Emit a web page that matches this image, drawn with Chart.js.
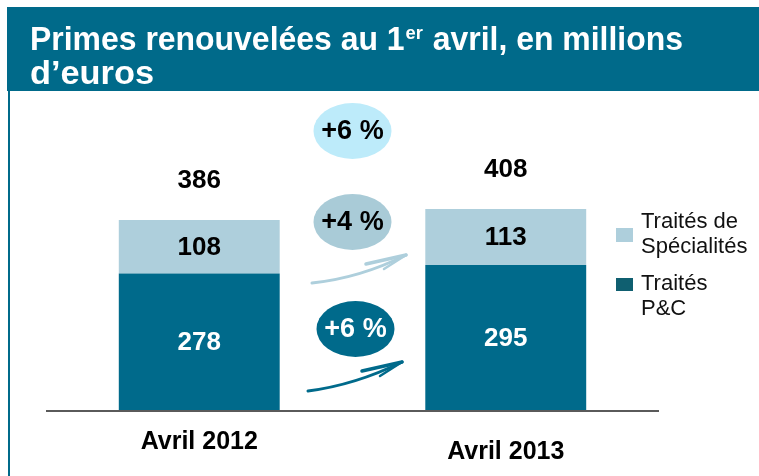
<!DOCTYPE html>
<html>
<head>
<meta charset="utf-8">
<script src="https://cdn.jsdelivr.net/npm/chart.js@4/dist/chart.umd.min.js"></script>
<style>
html,body{margin:0;padding:0;background:#fff;}
#wrap{position:relative;width:759px;height:476px;}
</style>
</head>
<body>
<div id="wrap"><canvas id="c" width="759" height="476"></canvas></div>
<script>
const categories = ['Avril 2012', 'Avril 2013'];
const pcValues = [278, 295];
const specValues = [108, 113];
const totals = [386, 408];
const growthLabels = ['+6 %', '+4 %', '+6 %'];
const seriesPC = ['Traités', 'P&C'];
const seriesSpec = ['Traités de', 'Spécialités'];
const titleLine1 = ['Primes renouvelées au 1', 'er', ' avril, en millions'];
const titleLine2 = 'd\u2019euros';

const DARK = '#006A8B';
const LIGHT = '#AECFDC';
const FONT = '"Liberation Sans", Arial, sans-serif';

const decor = {
  id: 'decor',
  beforeDraw(chart) {
    const ctx = chart.ctx;
    ctx.save();
    ctx.fillStyle = '#fff';
    ctx.fillRect(0, 0, chart.width, chart.height);
    ctx.fillStyle = '#006A8A';
    ctx.fillRect(7, 7, 752, 84);
    ctx.fillRect(8, 91, 2, 385);
    ctx.fillStyle = '#fff';
    ctx.textBaseline = 'alphabetic';
    ctx.textAlign = 'left';
    const big = 'bold 33px ' + FONT, small = 'bold 19px ' + FONT;
    ctx.font = big; const w1 = ctx.measureText(titleLine1[0]).width;
    ctx.font = small; const w2 = ctx.measureText(titleLine1[1]).width;
    ctx.font = big; const w3 = ctx.measureText(titleLine1[2]).width;
    const w4 = ctx.measureText(titleLine2).width;
    const sx = 653 / (w1 + w2 + 2 + w3);
    ctx.save();
    ctx.translate(30, 50);
    ctx.scale(sx, 1);
    ctx.font = big; ctx.fillText(titleLine1[0], 0, 0);
    ctx.font = small; ctx.fillText(titleLine1[1], w1 + 1, -11);
    ctx.font = big; ctx.fillText(titleLine1[2], w1 + w2 + 2, 0);
    ctx.restore();
    ctx.save();
    ctx.translate(30, 84);
    ctx.scale(124 / w4, 1);
    ctx.font = big; ctx.fillText(titleLine2, 0, 0);
    ctx.restore();
    ctx.restore();
  },
  afterDatasetsDraw(chart) {
    const ctx = chart.ctx;
    const xs = chart.scales.x, ys = chart.scales.y;
    const area = chart.chartArea;
    ctx.save();
    ctx.strokeStyle = '#5a5a5a';
    ctx.lineWidth = 2;
    ctx.beginPath();
    ctx.moveTo(area.left, ys.getPixelForValue(0));
    ctx.lineTo(area.right, ys.getPixelForValue(0));
    ctx.stroke();

    ctx.textAlign = 'center';
    ctx.textBaseline = 'middle';
    const m0 = chart.getDatasetMeta(0), m1 = chart.getDatasetMeta(1);
    categories.forEach((cat, i) => {
      const x = xs.getPixelForValue(i);
      const b0 = m0.data[i], b1 = m1.data[i];
      ctx.font = 'bold 26px ' + FONT;
      ctx.fillStyle = '#fff';
      ctx.fillText(String(pcValues[i]), x, (b0.y + b0.base) / 2 + 1);
      ctx.fillStyle = '#000';
      ctx.fillText(String(specValues[i]), x, (b1.y + b1.base) / 2 + 1);
      ctx.fillText(String(totals[i]), x, ys.getPixelForValue(totals[i]) - 39);
      ctx.font = 'bold 25px ' + FONT;
      ctx.fillText(cat, x, 442 + i * 10);
    });

    const mx = (xs.getPixelForValue(0) + xs.getPixelForValue(1)) / 2;
    const bubbles = [
      {dx: 0, y: 131, fill: '#BDEBFA', text: '#000'},
      {dx: 0, y: 222, fill: '#A9CBD7', text: '#000'},
      {dx: 3, y: 329, fill: DARK, text: '#fff'}
    ];
    bubbles.forEach((b, k) => {
      ctx.fillStyle = b.fill;
      ctx.beginPath();
      ctx.ellipse(mx + b.dx, b.y, 39, 28, 0, 0, Math.PI * 2);
      ctx.fill();
      ctx.fillStyle = b.text;
      ctx.font = 'bold 27px ' + FONT;
      ctx.fillText(growthLabels[k], mx + b.dx, b.y + 1);
    });

    function arrow(x0, y0, x1, y1, col, cpx, cpy) {
      ctx.strokeStyle = col;
      ctx.lineCap = 'round';
      ctx.lineWidth = 3;
      ctx.beginPath();
      ctx.moveTo(x0, y0);
      ctx.quadraticCurveTo(cpx, cpy, x1, y1);
      ctx.stroke();
      ctx.lineWidth = 3.5;
      ctx.beginPath();
      ctx.moveTo(x1 - 40, y1 + 9);
      ctx.lineTo(x1, y1);
      ctx.stroke();
      ctx.lineWidth = 2.5;
      ctx.beginPath();
      ctx.moveTo(x1 - 22, y1 + 14);
      ctx.lineTo(x1, y1);
      ctx.stroke();
    }
    arrow(312, 283, 406, 255, '#AECFDC', 360, 278);
    arrow(308, 391, 402, 362, DARK, 355, 385);

    ctx.textAlign = 'left';
    ctx.textBaseline = 'alphabetic';
    ctx.font = '22px ' + FONT;
    ctx.fillStyle = LIGHT;
    ctx.fillRect(616, 228, 17, 14);
    ctx.fillStyle = '#0f5f70';
    ctx.fillRect(616, 278, 17, 13);
    ctx.fillStyle = '#111';
    ctx.fillText(seriesSpec[0], 641, 228);
    ctx.fillText(seriesSpec[1], 641, 253);
    ctx.fillText(seriesPC[0], 641, 290);
    ctx.fillText(seriesPC[1], 641, 315);
    ctx.restore();
  }
};

new Chart(document.getElementById('c'), {
  type: 'bar',
  data: {
    labels: categories,
    datasets: [
      {label: seriesPC.join(' '), data: pcValues, backgroundColor: DARK, borderWidth: 0,
       barPercentage: 0.525, categoryPercentage: 1},
      {label: seriesSpec.join(' '), data: specValues, backgroundColor: LIGHT, borderWidth: 0,
       barPercentage: 0.525, categoryPercentage: 1}
    ]
  },
  options: {
    responsive: false,
    animation: false,
    devicePixelRatio: 1,
    layout: {padding: {left: 46, right: 100, top: 64.5, bottom: 65}},
    plugins: {legend: {display: false}, tooltip: {enabled: false}},
    scales: {
      x: {display: false, stacked: true},
      y: {display: false, stacked: true, min: 0, max: 700}
    }
  },
  plugins: [decor]
});
</script>
</body>
</html>
